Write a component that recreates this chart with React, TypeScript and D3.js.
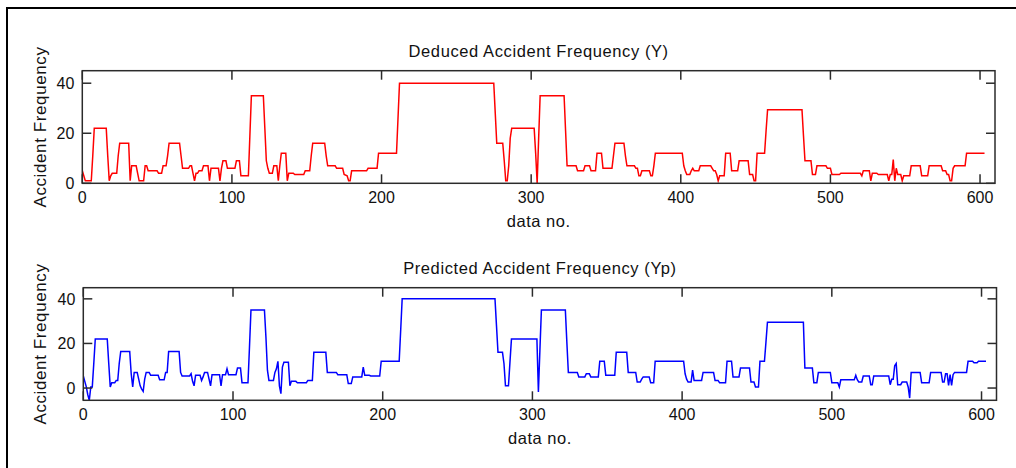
import React from 'react';
import * as d3 from 'd3';

// vertices: [data no., value]
const deducedY: [number, number][] = [
  [0, 5], [1, 3], [2, 1], [6, 1], [7, 11], [8, 22], [16, 22], [17, 11], [18, 1], [19, 3], [20, 4], [23, 4],
  [24, 11], [25, 16], [31, 16], [32, 1], [33, 7], [36, 7], [37, 4], [38, 1], [41, 1], [42, 7], [43, 7],
  [44, 5], [50, 5], [51, 4], [53, 4], [54, 7], [56, 7], [57, 11], [58, 16], [65, 16], [66, 11], [67, 6],
  [71, 6], [72, 7], [73, 7], [74, 4], [75, 1], [76, 4], [77, 4], [78, 5], [80, 5], [81, 7], [84, 7], [85, 1],
  [86, 6], [91, 6], [92, 1], [93, 6], [94, 9], [96, 9], [97, 6], [102, 6], [103, 9], [105, 9], [106, 3],
  [111, 3], [112, 19], [113, 35], [121, 35], [122, 22], [123, 9], [124, 6], [125, 4], [127, 4], [128, 7],
  [130, 7], [131, 1], [132, 7], [133, 12], [136, 12], [137, 1], [138, 4], [141, 4], [142, 3.5], [148, 3.5],
  [149, 5], [152, 5], [153, 11], [154, 16], [162, 16], [163, 11], [164, 7], [169, 7], [170, 6], [174, 6],
  [175, 3.5], [177, 3], [178, 1], [179, 1], [180, 5], [190, 5], [191, 6], [197, 6], [198, 12], [210, 12],
  [211, 26], [212, 40], [275, 40], [276, 28], [277, 16], [281, 16], [282, 9], [283, 1], [284, 1], [285, 7],
  [286, 18], [287, 22], [302, 22], [303, 12], [304, 0], [305, 18], [306, 35], [322, 35], [323, 21],
  [324, 7], [330, 7], [331, 5], [335, 5], [336, 7], [339, 7], [340, 5], [343, 5], [344, 12], [347, 12],
  [348, 6], [354, 6], [355, 11], [356, 16], [362, 16], [363, 11], [364, 7], [369, 7], [370, 6], [371, 6],
  [372, 3], [373, 3], [374, 5], [379, 5], [380, 3], [381, 3], [382, 7], [383, 12], [401, 12], [402, 7],
  [403, 5], [404, 3.5], [406, 3.5], [407, 5], [408, 6], [409, 5], [412, 5], [413, 7], [420, 7], [421, 6],
  [422, 5], [423, 5], [424, 3.5], [425, 1], [426, 3], [429, 3], [430, 12], [433, 12], [434, 5], [438, 5],
  [439, 9], [445, 9], [446, 3.5], [448, 3.5], [449, 1], [450, 1], [451, 12], [456, 12], [457, 21],
  [458, 29.4], [481, 29.4], [482, 19], [483, 9], [487, 9], [488, 3.5], [490, 3.5], [491, 7], [497, 7],
  [498, 6], [500, 6], [501, 3.5], [506, 3.5], [507, 4], [520, 4], [521, 3], [522, 5], [526, 5], [527, 1],
  [528, 4], [531, 4], [532, 3.5], [538, 3.5], [539, 1], [540, 3.5], [541, 3.5], [542, 9.5], [543, 1],
  [544, 6], [545, 3.5], [547, 3.5], [548, 1], [549, 3], [553, 3], [554, 7], [560, 7], [561, 3], [565, 3],
  [566, 7], [574, 7], [575, 5], [577, 5], [578, 3.5], [579, 3.5], [580, 1], [581, 1], [582, 6], [583, 7],
  [590, 7], [591, 12], [603, 12],
];

const predictedYp: [number, number][] = [
  [0, 5.4], [1, 3], [2, 0.5], [3, -3], [4, -5.5], [5, 0.5], [6, 0.5], [7, 11], [8, 22], [16, 22], [17, 11],
  [18, 0.5], [19, 2.4], [21, 2.4], [22, 3.4], [23, 3.4], [24, 11], [25, 16.4], [31, 16.4], [32, 6.4],
  [33, 0.5], [34, 7], [36, 7], [37, 4], [38, 1], [39, -0.5], [40, -1.5], [41, 4], [42, 7], [44, 7],
  [45, 5.7], [50, 5.7], [51, 3.7], [54, 3.7], [55, 7], [56, 7], [57, 16.4], [64, 16.4], [65, 7], [66, 5.4],
  [71, 5.4], [72, 6.4], [73, 3], [74, 1], [75, 5.7], [78, 5.7], [79, 3.4], [80, 5], [81, 7], [83, 7],
  [84, 4], [85, 1], [86, 6], [91, 6], [92, 1], [93, 6], [95, 6], [96, 8.6], [97, 6], [102, 6], [103, 9],
  [105, 9], [106, 2.4], [110, 2.4], [111, 18.3], [112, 35], [121, 35], [122, 22.8], [123, 8], [124, 3.4],
  [127, 3.4], [128, 7], [129, 8.6], [130, 12], [131, 1], [132, -2.5], [133, 9.4], [134, 11.6], [137, 11.6],
  [138, 1], [139, 3], [142, 3], [143, 2.4], [149, 2.4], [150, 3.4], [153, 3.4], [154, 16], [162, 16],
  [163, 7], [169, 7], [170, 6], [176, 6], [177, 2], [179, 2], [180, 5], [186, 5], [187, 9.4], [188, 5.7],
  [191, 5.7], [192, 5.4], [198, 5.4], [199, 12], [211, 12], [212, 25.8], [213, 40], [275, 40], [276, 28],
  [277, 16], [280, 16], [281, 11], [282, 1], [284, 1], [285, 11.6], [286, 22], [303, 22], [304, -1.8],
  [305, 17], [306, 35], [322, 35], [323, 20.6], [324, 7], [330, 7], [331, 5], [335, 5], [336, 6.4],
  [338, 6.4], [339, 5], [344, 5], [345, 12], [348, 12], [349, 5.7], [355, 5.7], [356, 16], [363, 16],
  [364, 7], [369, 7], [370, 2.7], [372, 2.7], [373, 4], [374, 5], [378, 5], [379, 2.4], [381, 2.4],
  [382, 12], [401, 12], [402, 6.4], [403, 4], [404, 2.7], [406, 2.7], [407, 8], [408, 3.4], [413, 3.4],
  [414, 7], [421, 7], [422, 3.4], [424, 3.4], [425, 2.4], [429, 2.4], [430, 12], [433, 12], [434, 5],
  [438, 5], [439, 9], [445, 9], [446, 2.7], [448, 2.7], [449, 0.5], [451, 0.5], [452, 12], [455, 12],
  [456, 20.6], [457, 29.5], [481, 29.5], [482, 9], [487, 9], [488, 2.4], [490, 2.4], [491, 7], [499, 7],
  [500, 2.4], [504, 2.4], [505, 0.5], [506, 3.7], [515, 3.7], [516, 5.7], [517, 3.7], [518, 2.7],
  [520, 2.7], [521, 5.4], [525, 5.4], [526, 1.5], [527, 1.5], [528, 5.4], [538, 5.4], [539, 1.5],
  [540, 3.9], [541, 3.9], [542, 10], [543, 11], [544, 1.5], [546, 1.5], [547, 2.7], [550, 2.7], [551, 0.5],
  [552, -4.5], [553, 7], [559, 7], [560, 2.4], [565, 2.4], [566, 7], [573, 7], [574, 2.7], [575, 2.7],
  [576, 6.4], [577, 6.4], [578, 1.2], [579, 6], [580, 1.2], [581, 6], [582, 7], [590, 7], [591, 12],
  [594, 12], [595, 11.3], [597, 11.3], [598, 12], [603, 12],
];

const xTicks = [0, 100, 200, 300, 400, 500, 600];
const yTicks = [0, 20, 40];

const FONT = '"Liberation Sans", Arial, Helvetica, sans-serif';
const AXIS = '#2b2b2b';
const TICK = 9;

type PanelProps = {
  id: string;
  box: { left: number; right: number; top: number; bottom: number };
  yDomain: [number, number];
  data: [number, number][];
  color: string;
  title: string;
};

const Panel = ({ id, box, yDomain, data, color, title }: PanelProps) => {
  const x = d3.scaleLinear().domain([0, 610]).range([box.left, box.right]);
  const y = d3.scaleLinear().domain(yDomain).range([box.bottom, box.top]);
  const line = d3.line<[number, number]>().x(d => x(d[0])).y(d => y(d[1]));
  const midX = (box.left + box.right) / 2;
  const midY = (box.top + box.bottom) / 2;

  return (
    <g>
      <clipPath id={id}>
        <rect x={box.left} y={box.top} width={box.right - box.left} height={box.bottom - box.top} />
      </clipPath>
      <path d={line(data) ?? ''} fill="none" stroke={color} strokeWidth={1.5} clipPath={`url(#${id})`} />
      <rect x={box.left} y={box.top} width={box.right - box.left} height={box.bottom - box.top}
        fill="none" stroke={AXIS} strokeWidth={1.5} />
      {xTicks.map(t => (
        <g key={`x${t}`}>
          <line x1={x(t)} x2={x(t)} y1={box.bottom} y2={box.bottom - TICK} stroke={AXIS} strokeWidth={1.5} />
          <line x1={x(t)} x2={x(t)} y1={box.top} y2={box.top + TICK} stroke={AXIS} strokeWidth={1.5} />
          <text x={x(t)} y={box.bottom + 20} textAnchor="middle" fontSize={16} fontFamily={FONT} fill="#111">{t}</text>
        </g>
      ))}
      {yTicks.map(t => (
        <g key={`y${t}`}>
          <line x1={box.left} x2={box.left + TICK} y1={y(t)} y2={y(t)} stroke={AXIS} strokeWidth={1.5} />
          <line x1={box.right} x2={box.right - TICK} y1={y(t)} y2={y(t)} stroke={AXIS} strokeWidth={1.5} />
          <text x={box.left - 8} y={y(t)} dy="0.36em" textAnchor="end" fontSize={16} fontFamily={FONT} fill="#111">{t}</text>
        </g>
      ))}
      <text x={midX} y={box.top - 13.5} textAnchor="middle" fontSize={16.5} letterSpacing={0.6} fontFamily={FONT} fill="#111">{title}</text>
      <text x={midX} y={box.bottom + 43.5} textAnchor="middle" fontSize={16.5} letterSpacing={0.5} fontFamily={FONT} fill="#111">data no.</text>
      <text transform={`translate(46,${midY}) rotate(-90)`} textAnchor="middle" fontSize={17} letterSpacing={0.6} fontFamily={FONT} fill="#111">Accident Frequency</text>
    </g>
  );
};

export default function App() {
  return (
    <div style={{ position: 'fixed', left: 0, top: 0 }}>
      <svg width={1016} height={468} style={{ display: 'block', background: '#fff' }}>
        <line x1={7} x2={7} y1={7} y2={468} stroke="#000" strokeWidth={2} />
        <line x1={7} x2={1016} y1={8} y2={8} stroke="#000" strokeWidth={2} />
        <Panel id="clipTop" box={{ left: 82.3, right: 995, top: 70.7, bottom: 183.3 }} yDomain={[0, 45]}
          data={deducedY} color="#ff0000" title="Deduced Accident Frequency (Y)" />
        <Panel id="clipBottom" box={{ left: 83.3, right: 996.5, top: 287.7, bottom: 400.3 }} yDomain={[-5.5, 45]}
          data={predictedYp} color="#0000ff" title="Predicted Accident Frequency (Yp)" />
      </svg>
    </div>
  );
}
